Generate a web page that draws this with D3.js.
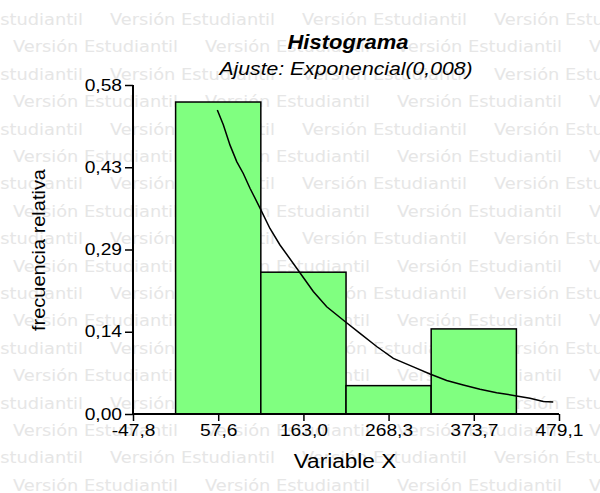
<!DOCTYPE html>
<html>
<head>
<meta charset="utf-8">
<script src="https://cdn.jsdelivr.net/npm/d3@7"></script>
<style>
	body{margin:0;background:#fff;}
	text{font-family:"Liberation Sans",Arial,sans-serif;}
</style>
</head>
<body>
<svg id="svg"></svg>
<script>
// bins of the histogram (edges) and relative frequencies
var binEdges = [4.9, 110.3, 215.7, 321.0, 426.4],
	freq = [0.55, 0.25, 0.05, 0.15],
	xTicks = [-47.8, 57.6, 163.0, 268.3, 373.7, 479.1],
	xTickLabels = ["-47,8", "57,6", "163,0", "268,3", "373,7", "479,1"],
	yTicks = [0, 0.145, 0.29, 0.435, 0.58],
	yTickLabels = ["0,00", "0,14", "0,29", "0,43", "0,58"],
	// fitted exponential curve
	curveX = [56.5, 63.9, 72.2, 80.5, 88.6, 96.9, 109.3, 121.6, 134.0, 154.7, 175.2, 191.8, 214.4, 233.0, 253.6, 274.2, 298.9, 319.5, 340.2, 360.7, 381.4, 402.0, 424.7, 443.2, 459.7, 472.0],
	curveY = [0.536, 0.510, 0.474, 0.445, 0.424, 0.398, 0.363, 0.327, 0.298, 0.257, 0.216, 0.189, 0.163, 0.142, 0.119, 0.098, 0.083, 0.0705, 0.059, 0.051, 0.0435, 0.0376, 0.0323, 0.0277, 0.0220, 0.0210];

var width = 600, height = 493;
var svg = d3.select("#svg").attr("width", width).attr("height", height);

var x = d3.scaleLinear().domain([-47.8, 479.1]).range([133, 559]);
var y = d3.scaleLinear().domain([0, 0.58]).range([414, 85]);

// text in the picture is a bit wider than plain Arial
function stretch(sel, k){
	sel.each(function(){
		var w = this.getComputedTextLength();
		d3.select(this).attr("textLength", w * k).attr("lengthAdjust", "spacingAndGlyphs");
	});
}

function watermark(){
	var g = svg.append("g");
	for(let k = 0; k < 18; k++){
		let start = (k % 2 === 0) ? -82 : 13;
		for(let x0 = start; x0 < width; x0 += 192){
			g.append("text")
				.attr("x", x0).attr("y", 25 + 27.4 * k)
				.style("font-family", "'DejaVu Sans', sans-serif")
				.style("font-size", "16px")
				.attr("fill", "#e6e6e6")
				.attr("textLength", 165).attr("lengthAdjust", "spacingAndGlyphs")
				.text("Versión Estudiantil");
		}
	}
}

function bars(){
	var data = freq.map(function(f, i){ return {lo: binEdges[i], hi: binEdges[i + 1], f: f}; });
	svg.append("g").selectAll("rect").data(data).enter().append("rect")
		.attr("x", function(d){ return x(d.lo); })
		.attr("width", function(d){ return x(d.hi) - x(d.lo); })
		.attr("y", function(d){ return y(d.f); })
		.attr("height", function(d){ return y(0) - y(d.f); })
		.attr("fill", "#80ff80")
		.attr("stroke", "#000")
		.attr("stroke-width", 1.5);

	var line = d3.line()
		.x(function(d){ return x(d[0]); })
		.y(function(d){ return y(d[1]); });
	svg.append("path")
		.datum(d3.zip(curveX, curveY))
		.attr("d", line)
		.attr("fill", "none")
		.attr("stroke", "#000")
		.attr("stroke-width", 1.5);
}

function axes(){
	var xAxis = d3.axisBottom(x).tickValues(xTicks).tickSize(7)
		.tickFormat(function(d, i){ return xTickLabels[i]; });
	var gx = svg.append("g").attr("transform", "translate(0," + y(0) + ")").call(xAxis);
	gx.select(".domain").attr("d", "M" + x(-47.8) + ",0H" + x(479.1)).attr("stroke-width", 2);
	gx.selectAll(".tick line").attr("stroke-width", 1.5);
	gx.selectAll(".tick text").attr("y", 11).attr("dy", "0.71em")
		.style("font-size", "16px").attr("fill", "#000");
	stretch(gx.selectAll(".tick text"), 1.2);

	var yAxis = d3.axisLeft(y).tickValues(yTicks).tickSize(8)
		.tickFormat(function(d, i){ return yTickLabels[i]; });
	var gy = svg.append("g").attr("transform", "translate(" + x(-47.8) + ",0)").call(yAxis);
	gy.select(".domain").attr("d", "M0," + y(0.58) + "V" + y(0)).attr("stroke-width", 2);
	gy.selectAll(".tick line").attr("stroke-width", 1.5);
	gy.selectAll(".tick text").attr("x", -11)
		.style("font-size", "16px").attr("fill", "#000");
	stretch(gy.selectAll(".tick text"), 1.2);
}

function labels(){
	var cx = (x.range()[0] + x.range()[1]) / 2;
	var t = svg.append("text").attr("x", cx + 2).attr("y", 49)
		.attr("text-anchor", "middle")
		.style("font-size", "20px").style("font-weight", "bold").style("font-style", "italic")
		.text("Histograma");
	stretch(t, 1.1);
	var s = svg.append("text").attr("x", cx).attr("y", 75)
		.attr("text-anchor", "middle")
		.style("font-size", "17.5px").style("font-style", "italic")
		.text("Ajuste: Exponencial(0,008)");
	stretch(s, 1.21);
	var xl = svg.append("text").attr("x", 345).attr("y", 468)
		.attr("text-anchor", "middle")
		.style("font-size", "20px")
		.text("Variable X");
	stretch(xl, 1.13);
	var yl = svg.append("text")
		.attr("transform", "translate(45,250) rotate(-90)")
		.attr("text-anchor", "middle")
		.style("font-size", "19px")
		.text("frecuencia relativa");
	stretch(yl, 1.05);
}

watermark();
bars();
axes();
labels();
</script>
</body>
</html>
